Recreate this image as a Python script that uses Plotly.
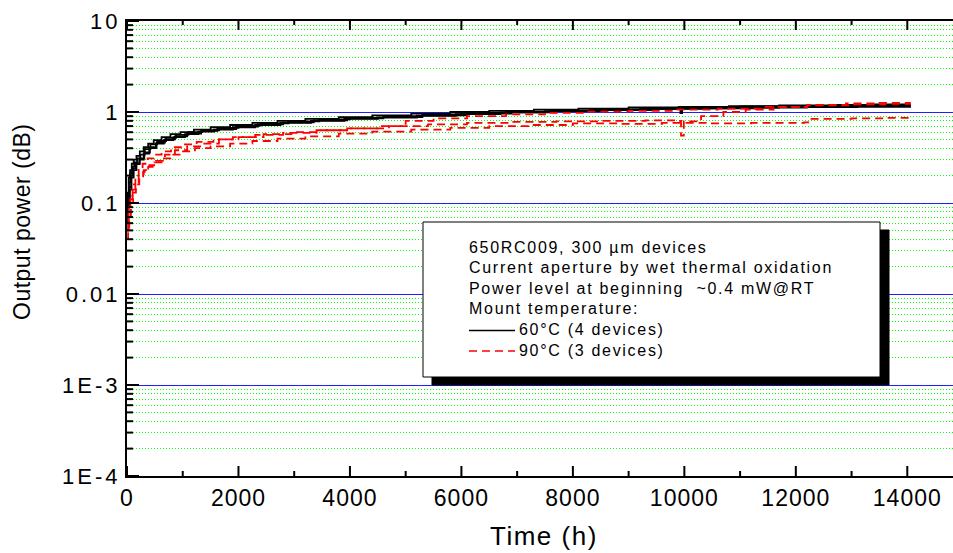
import math
import plotly.graph_objects as go

# ---- measured output power vs. burn-in time ----
# 60 °C mount temperature, four devices
t_60_a = [0, 15, 35, 60, 90, 130, 180, 240, 320, 420, 540, 700, 880, 1100, 1350, 1650, 2000, 2400,
          2900, 3450, 4000, 4600, 5300, 6000, 6800, 7600, 8400, 9300, 10100, 11000, 11900, 12800, 13500, 14050]
p_60_a = [0.07, 0.12, 0.17, 0.21, 0.25, 0.28, 0.31, 0.34, 0.39, 0.44, 0.48, 0.52, 0.56, 0.6, 0.63, 0.67, 0.71, 0.75,
          0.79, 0.83, 0.86, 0.9, 0.94, 0.98, 1.01, 1.04, 1.07, 1.1, 1.13, 1.15, 1.17, 1.19, 1.2, 1.21]

t_60_b = [0, 20, 45, 75, 110, 160, 220, 300, 400, 520, 660, 830, 1040, 1280, 1560, 1900, 2300, 2750,
          3300, 3900, 4500, 5200, 5900, 6700, 7500, 8300, 9200, 9930, 9960, 10800, 11700, 12600, 13400, 14050]
p_60_b = [0.06, 0.1, 0.15, 0.2, 0.24, 0.27, 0.3, 0.35, 0.4, 0.45, 0.49, 0.53, 0.57, 0.61, 0.64, 0.68, 0.72, 0.76,
          0.8, 0.84, 0.87, 0.91, 0.95, 0.99, 1.02, 1.05, 1.08, 0.97, 1.1, 1.12, 1.14, 1.16, 1.17, 1.18]

t_60_c = [0, 10, 30, 55, 85, 120, 170, 230, 300, 380, 480, 620, 780, 960, 1200, 1500, 1850, 2250,
          2700, 3200, 3800, 4400, 5100, 5800, 6500, 7300, 8100, 9000, 9900, 10800, 11700, 12600, 13400, 14050]
p_60_c = [0.08, 0.13, 0.19, 0.23, 0.27, 0.3, 0.33, 0.37, 0.41, 0.45, 0.49, 0.53, 0.57, 0.6, 0.64, 0.68, 0.72, 0.76,
          0.8, 0.84, 0.88, 0.92, 0.96, 1.0, 1.03, 1.06, 1.09, 1.12, 1.14, 1.16, 1.18, 1.2, 1.21, 1.22]

t_60_d = [0, 25, 50, 80, 120, 170, 230, 310, 410, 530, 680, 860, 1080, 1330, 1620, 1960, 2350, 2800,
          3350, 3950, 4600, 5300, 6100, 6900, 7700, 8600, 9500, 10400, 11300, 12200, 13100, 14050]
p_60_d = [0.05, 0.09, 0.14, 0.19, 0.23, 0.27, 0.31, 0.36, 0.41, 0.46, 0.5, 0.54, 0.58, 0.62, 0.65, 0.69, 0.73, 0.77,
          0.81, 0.85, 0.88, 0.92, 0.96, 0.99, 1.02, 1.05, 1.08, 1.1, 1.12, 1.13, 1.14, 1.15]

# 90 °C mount temperature, three devices
t_90_a = [0, 20, 40, 70, 110, 160, 220, 290, 380, 490, 620, 780, 980, 1220, 1500, 1850, 2250, 2700,
          3200, 3800, 4400, 5100, 5800, 6500, 7200, 8000, 8800, 9600, 10400, 11200, 12150, 12250, 13000, 13600, 14050]
p_90_a = [0.04, 0.05, 0.07, 0.1, 0.13, 0.16, 0.19, 0.22, 0.25, 0.28, 0.31, 0.34, 0.37, 0.4, 0.42, 0.45, 0.48, 0.51,
          0.54, 0.58, 0.61, 0.64, 0.67, 0.7, 0.72, 0.75, 0.74, 0.76, 0.75, 0.76, 0.77, 0.84, 0.85, 0.86, 0.87]

t_90_b = [0, 25, 60, 100, 150, 210, 280, 370, 480, 620, 790, 1000, 1250, 1550, 1900, 2300, 2800, 3400,
          4000, 4700, 5400, 6100, 6900, 7700, 8500, 9300, 9920, 9940, 9990, 10300, 10700, 11100, 11600,
          12200, 12900, 13500, 14050]
p_90_b = [0.05, 0.08, 0.12, 0.16, 0.2, 0.24, 0.27, 0.31, 0.34, 0.37, 0.41, 0.44, 0.47, 0.5, 0.53, 0.56, 0.59, 0.63,
          0.66, 0.7, 0.73, 0.76, 0.78, 0.79, 0.8, 0.81, 0.8, 0.55, 0.79, 0.9, 1.0, 1.06, 1.13,
          1.2, 1.24, 1.26, 1.28]

t_90_c = [0, 30, 60, 100, 150, 210, 300, 400, 520, 680, 860, 1080, 1330, 1650, 2000, 2450, 2950, 3400,
          3950, 4500, 5000, 5500, 6100, 6800, 7500, 8200, 9000, 9800, 10600, 11400, 12200, 13000, 13600, 14050]
p_90_c = [0.06, 0.09, 0.11, 0.14, 0.17, 0.2, 0.23, 0.26, 0.29, 0.34, 0.38, 0.42, 0.45, 0.5, 0.53, 0.57, 0.6, 0.63,
          0.66, 0.7, 0.8, 0.85, 0.9, 0.94, 0.98, 1.01, 1.03, 1.06, 1.09, 1.14, 1.18, 1.21, 1.23, 1.25]

# ---- axis ticks and text ----
X_RANGE = [0, 14820]
Y_RANGE = [-4, 1]  # log10 decades
x_tick_vals = [0, 2000, 4000, 6000, 8000, 10000, 12000, 14000]
x_tick_text = ["0", "2000", "4000", "6000", "8000", "10000", "12000", "14000"]
x_minor_vals = [1000, 3000, 5000, 7000, 9000, 11000, 13000]
y_tick_vals = [1e-4, 1e-3, 1e-2, 1e-1, 1, 10]
y_tick_text = ["1E-4", "1E-3", "0.01", "0.1", "1", "10"]
y_minor_vals = [m * 10.0 ** e for e in range(-4, 1) for m in range(2, 10)]

info_lines = [
    "650RC009, 300 \u00b5m devices",
    "Current aperture by wet thermal oxidation",
    "Power level at beginning  ~0.4 mW@RT",
    "Mount temperature:",
]
key_lines = ["60\u00b0C (4 devices)", "90\u00b0C (3 devices)"]
key_styles = [dict(color="black", width=1.5, dash="solid"), dict(color="#ff0000", width=1.5, dash="8px,5px")]

FONT = "Liberation Sans, Arial, sans-serif"


def spaced(s, px):
    return f'<span style="letter-spacing:{px}px">{s}</span>'


# figure geometry (pixels)
W, H = 953, 553
L, R, T, B = 127, 0, 21, 77
PW, PH = W - L - R, H - T - B


def px_x(px):
    return (px - L) / PW


def px_y(py):
    return (H - B - py) / PH


def x_frac(v):
    return (v - X_RANGE[0]) / (X_RANGE[1] - X_RANGE[0])


def y_frac(v):
    return (math.log10(v) - Y_RANGE[0]) / (Y_RANGE[1] - Y_RANGE[0])


fig = go.Figure()

for t, p in [(t_60_a, p_60_a), (t_60_b, p_60_b), (t_60_c, p_60_c), (t_60_d, p_60_d)]:
    fig.add_trace(go.Scatter(x=t, y=p, mode="lines", line_shape="hv",
                             line=dict(color="black", width=1.8), showlegend=False))

for t, p in [(t_90_a, p_90_a), (t_90_b, p_90_b), (t_90_c, p_90_c)]:
    fig.add_trace(go.Scatter(x=t, y=p, mode="lines", line_shape="hv",
                             line=dict(color="#ff0000", width=1.8, dash="8px,5px"), showlegend=False))

# inward tick marks: bottom and top of the time axis, left side of the power axis
tick_line = dict(color="black", width=2)
for vals, ln in [(x_tick_vals, 10), (x_minor_vals, 5)]:
    for v in vals:
        fx = x_frac(v)
        fig.add_shape(type="line", xref="paper", yref="paper", layer="above",
                      x0=fx, x1=fx, y0=0, y1=ln / PH, line=tick_line)
        fig.add_shape(type="line", xref="paper", yref="paper", layer="above",
                      x0=fx, x1=fx, y0=1, y1=1 - (ln - 1) / PH, line=tick_line)
for vals, ln in [(y_tick_vals, 12), (y_minor_vals, 6)]:
    for v in vals:
        fy = y_frac(v)
        fig.add_shape(type="line", xref="paper", yref="paper", layer="above",
                      x0=0, x1=ln / PW, y0=fy, y1=fy, line=tick_line)

# info box with drop shadow
box_l, box_t, box_r, box_b = 423, 222, 880, 377
shadow_dx, shadow_dy = 9, 8
fig.add_shape(type="rect", xref="paper", yref="paper", layer="above",
              x0=px_x(box_l + shadow_dx), x1=px_x(box_r + shadow_dx),
              y0=px_y(box_t + shadow_dy), y1=px_y(box_b + shadow_dy),
              fillcolor="black", line=dict(color="black", width=1))
fig.add_shape(type="rect", xref="paper", yref="paper", layer="above",
              x0=px_x(box_l), x1=px_x(box_r), y0=px_y(box_t), y1=px_y(box_b),
              fillcolor="white", line=dict(color="black", width=1))

text_left = 467
first_center, line_step = 247, 20.6
for i, line in enumerate(info_lines):
    fig.add_annotation(
        xref="paper", yref="paper", x=px_x(text_left), y=px_y(first_center + i * line_step),
        xanchor="left", yanchor="middle", showarrow=False,
        text=spaced(line, 1.7), font=dict(family=FONT, size=16, color="black"),
    )

# key: line sample followed by its label
sample_l, sample_r, label_l = 469, 515, 517
for j, (label, style) in enumerate(zip(key_lines, key_styles)):
    yc = first_center + (len(info_lines) + j) * line_step
    fig.add_shape(type="line", xref="paper", yref="paper", layer="above",
                  x0=px_x(sample_l), x1=px_x(sample_r), y0=px_y(yc + 1), y1=px_y(yc + 1),
                  line=style)
    fig.add_annotation(
        xref="paper", yref="paper", x=px_x(label_l), y=px_y(yc),
        xanchor="left", yanchor="middle", showarrow=False,
        text=spaced(label, 1.7), font=dict(family=FONT, size=16, color="black"),
    )

# axis titles
fig.add_annotation(
    xref="paper", yref="paper", x=px_x(22), y=px_y(222), textangle=-90,
    xanchor="center", yanchor="middle", showarrow=False,
    text=spaced("Output power (dB)", 0.5), font=dict(family=FONT, size=23, color="black"),
)
fig.add_annotation(
    xref="paper", yref="paper", x=px_x(544), y=px_y(536),
    xanchor="center", yanchor="middle", showarrow=False,
    text=spaced("Time (h)", 1.5), font=dict(family=FONT, size=26, color="black"),
)

fig.update_xaxes(
    range=X_RANGE, showgrid=False, zeroline=False,
    showline=True, linecolor="black", linewidth=2, mirror=True, ticks="",
    tickmode="array", tickvals=x_tick_vals, ticktext=[spaced(s, 1) for s in x_tick_text],
    tickfont=dict(family=FONT, size=23, color="black"),
)
fig.update_yaxes(
    type="log", range=Y_RANGE, zeroline=False,
    showline=True, linecolor="black", linewidth=2, mirror=False, ticks="",
    tickmode="array", tickvals=y_tick_vals, ticktext=[spaced(s, 3) for s in y_tick_text],
    tickfont=dict(family=FONT, size=22, color="black"),
    showgrid=True, gridcolor="#1f1fff", gridwidth=1,
    minor=dict(tickmode="array", tickvals=y_minor_vals, ticks="",
               showgrid=True, gridcolor="#00ff00", gridwidth=1, griddash="1px,2px"),
)

fig.update_layout(
    width=W, height=H,
    margin=dict(l=L, r=R, t=T, b=B),
    paper_bgcolor="white", plot_bgcolor="white",
    showlegend=False,
)

fig.write_html("out.html")
